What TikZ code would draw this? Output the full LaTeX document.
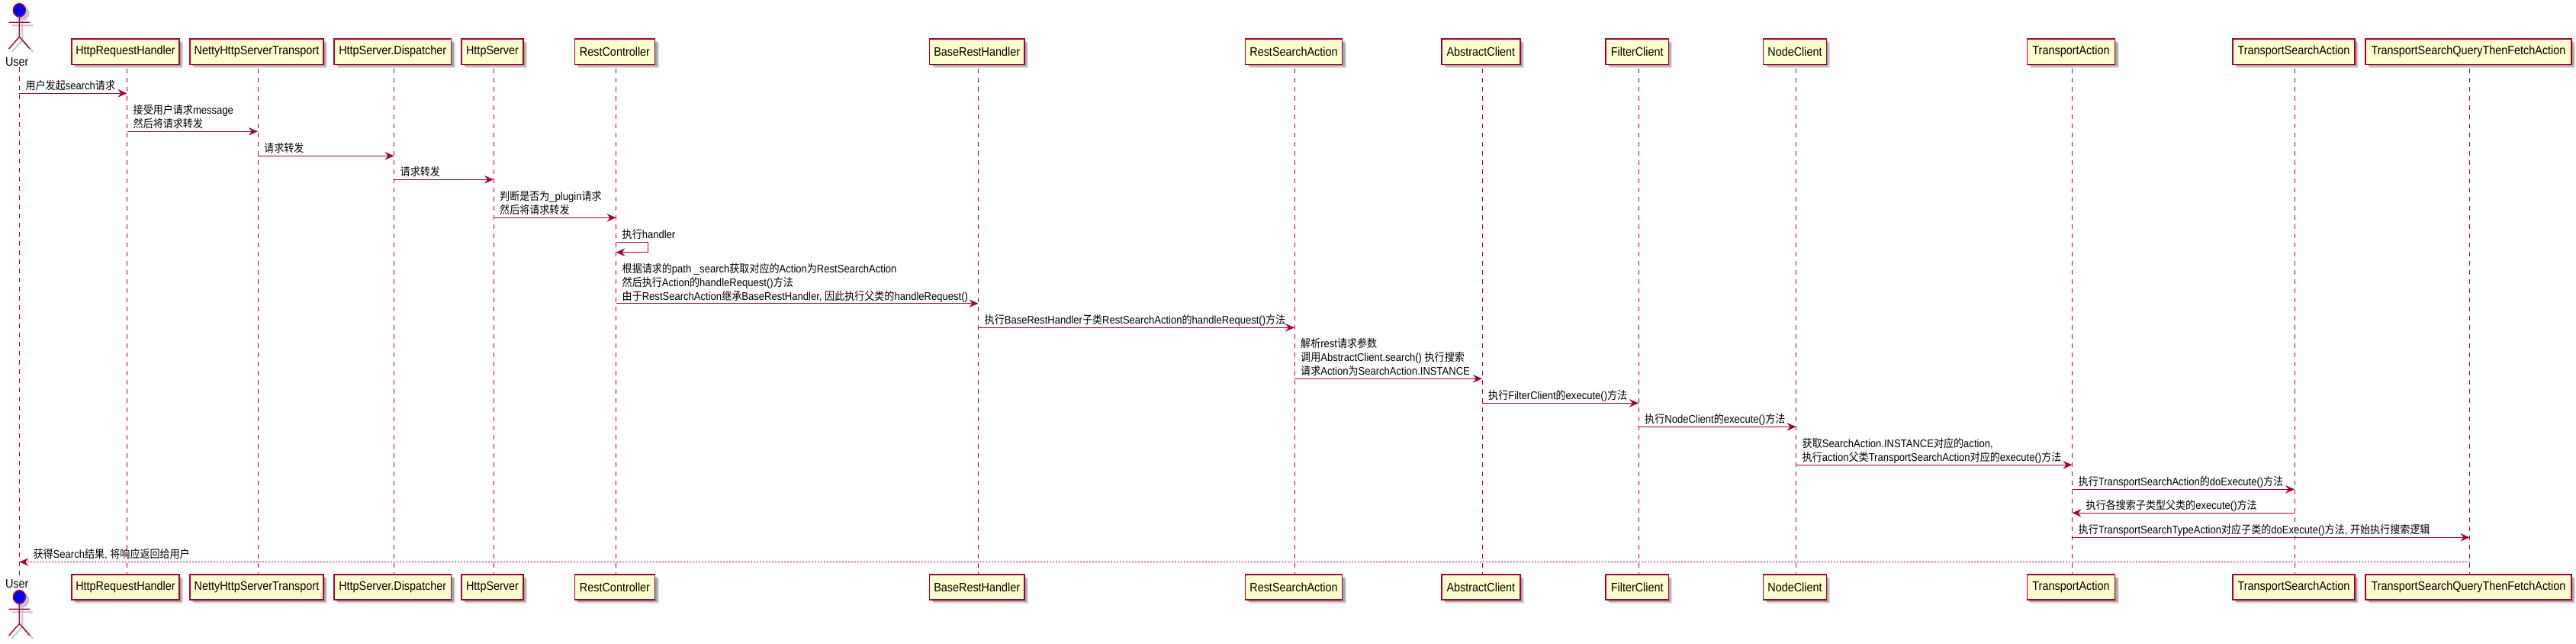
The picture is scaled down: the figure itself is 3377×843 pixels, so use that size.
\documentclass[tikz,border=0pt]{standalone}
\usepackage{fontspec}
\setmainfont{Liberation Sans}[FakeStretch=0.9]
\newfontfamily\zhfont{Noto Sans CJK SC}[FakeStretch=0.9]
\newcommand{\zh}[1]{{\zhfont #1}}
\newcommand{\boxfont}{\fontsize{16}{19}\selectfont}
\newcommand{\msgfont}{\fontsize{14.5}{18}\selectfont}
\usetikzlibrary{arrows.meta,positioning,shadows}
\definecolor{umlred}{HTML}{A80036}
\definecolor{umlfill}{HTML}{FEFECE}

\begin{document}
\begin{tikzpicture}[x=1pt,y=-1pt,node distance=4.4pt and 8pt]
\tikzstyle{boxshadow}=[drop shadow={shadow xshift=5pt,shadow yshift=-5pt,fill=black,opacity=.15},
    drop shadow={shadow xshift=3pt,shadow yshift=-3pt,fill=black,opacity=.25}]
\tikzstyle{part}=[draw=umlred,fill=umlfill,line width=1.6pt,minimum height=33.3pt,inner sep=0pt,font=\boxfont,boxshadow]
\tikzstyle{actorlabel}=[inner sep=0pt,minimum height=14pt,font=\boxfont]
\tikzstyle{lifeline}=[draw=umlred,line width=1pt,dash pattern=on 6pt off 6pt]
\tikzstyle{msg}=[draw=umlred,line width=1.2pt,-{Stealth[length=12pt,width=10.5pt,inset=4pt]}]
\tikzstyle{reply}=[msg,dash pattern=on 2pt off 2pt]
\tikzstyle{msgtext}=[inner sep=0pt,align=left,text depth=0pt,font=\msgfont]
\tikzset{actor/.pic={
    \draw[black!22,line width=2pt,fill=black!22,shift={(4,4)}] (0,13.3) ellipse [x radius=8,y radius=8.7];
    \draw[black!22,line width=2pt,shift={(4,4)}] (0,22) -- (0,48.3) (-13.8,29.3) -- (13.8,29.3) (-13.8,64) -- (0,48.3) -- (13.8,64);
    \draw[umlred,line width=1.4pt,fill=blue] (0,13.3) ellipse [x radius=8,y radius=8.7];
    \draw[umlred,line width=1.4pt] (0,22) -- (0,48.3) (-13.8,29.3) -- (13.8,29.3) (-13.8,64) -- (0,48.3) -- (13.8,64);
}}
\useasboundingbox (0,0) rectangle (3377,843);

% top row
\pic at (25.4,0) {actor};
\pic at (25.4,769) {actor};
\node [actorlabel] (user) at (22.3,81) {User};
\node [part,minimum width=141pt] (hrh) at (164.5,67.7) {HttpRequestHandler};
\node [part,minimum width=175pt] (nhst) at (336.5,67.7) {NettyHttpServerTransport};
\node [part,minimum width=153.5pt] (hsd) at (514.75,67.7) {HttpServer.Dispatcher};
\node [part,minimum width=81pt] (hs) at (645.5,67.7) {HttpServer};
\node [part,minimum width=105.3pt] (rc) at (806,67.7) {RestController};
\node [part,minimum width=124.2pt] (brh) at (1280.7,67.7) {BaseRestHandler};
\node [part,minimum width=127pt] (rsa) at (1696,67.7) {RestSearchAction};
\node [part,minimum width=103.2pt] (ac) at (1941.4,67.7) {AbstractClient};
\node [part,minimum width=82.4pt] (fc) at (2146.2,67.7) {FilterClient};
\node [part,minimum width=82.8pt] (nc) at (2353,67.7) {NodeClient};
\node [part,minimum width=115.1pt] (ta) at (2715,67.7) {TransportAction};
\node [part,minimum width=160pt] (tsa) at (3007,67.7) {TransportSearchAction};
\node [part,minimum width=270pt] (tsq) at (3236,67.7) {TransportSearchQueryThenFetchAction};

% bottom row
\node [actorlabel] (userb) at (22.3,765) {User};
\node [part,minimum width=141pt] (hrhb) at (164.5,769.6) {HttpRequestHandler};
\node [part,minimum width=175pt] (nhstb) at (336.5,769.6) {NettyHttpServerTransport};
\node [part,minimum width=153.5pt] (hsdb) at (514.75,769.6) {HttpServer.Dispatcher};
\node [part,minimum width=81pt] (hsb) at (645.5,769.6) {HttpServer};
\node [part,minimum width=105.3pt] (rcb) at (806,769.6) {RestController};
\node [part,minimum width=124.2pt] (brhb) at (1280.7,769.6) {BaseRestHandler};
\node [part,minimum width=127pt] (rsab) at (1696,769.6) {RestSearchAction};
\node [part,minimum width=103.2pt] (acb) at (1941.4,769.6) {AbstractClient};
\node [part,minimum width=82.4pt] (fcb) at (2146.2,769.6) {FilterClient};
\node [part,minimum width=82.8pt] (ncb) at (2353,769.6) {NodeClient};
\node [part,minimum width=115.1pt] (tab) at (2715,769.6) {TransportAction};
\node [part,minimum width=160pt] (tsab) at (3007,769.6) {TransportSearchAction};
\node [part,minimum width=270pt] (tsqb) at (3236,769.6) {TransportSearchQueryThenFetchAction};

% lifelines
\coordinate (userl) at ([xshift=3.1pt]user.south);
\coordinate (hrhl) at ([xshift=2pt,yshift=-4.7pt]hrh.south);
\coordinate (nhstl) at ([xshift=1.5pt,yshift=-4.7pt]nhst.south);
\coordinate (hsdl) at ([xshift=1.75pt,yshift=-4.7pt]hsd.south);
\coordinate (hsl) at ([xshift=1.5pt,yshift=-4.7pt]hs.south);
\coordinate (rcl) at ([xshift=1.5pt,yshift=-4.7pt]rc.south);
\coordinate (brhl) at ([xshift=1.8pt,yshift=-4.7pt]brh.south);
\coordinate (rsal) at ([xshift=1pt,yshift=-4.7pt]rsa.south);
\coordinate (acl) at ([xshift=1.6pt,yshift=-4.7pt]ac.south);
\coordinate (fcl) at ([xshift=1.8pt,yshift=-4.7pt]fc.south);
\coordinate (ncl) at ([xshift=1.5pt,yshift=-4.7pt]nc.south);
\coordinate (tal) at ([xshift=1.5pt,yshift=-4.7pt]ta.south);
\coordinate (tsal) at ([xshift=1pt,yshift=-4.7pt]tsa.south);
\coordinate (tsql) at ([xshift=1.5pt,yshift=-4.7pt]tsq.south);
\path[every edge/.style={lifeline}]
    (userl) edge (userl |- 0,755)
    (hrhl) edge (hrhl |- hrhb.north)
    (nhstl) edge (nhstl |- nhstb.north)
    (hsdl) edge (hsdl |- hsdb.north)
    (hsl) edge (hsl |- hsb.north)
    (rcl) edge (rcl |- rcb.north)
    (brhl) edge (brhl |- brhb.north)
    (rsal) edge (rsal |- rsab.north)
    (acl) edge (acl |- acb.north)
    (fcl) edge (fcl |- fcb.north)
    (ncl) edge (ncl |- ncb.north)
    (tal) edge (tal |- tab.north)
    (tsal) edge (tsal |- tsab.north)
    (tsql) edge (tsql |- tsqb.north);

% messages
\coordinate (m1s) at (userl |- 0,122.3);
\coordinate (m1e) at (hrhl |- 0,122.3);
\coordinate (m2s) at (hrhl |- 0,172.3);
\coordinate (m2e) at (nhstl |- 0,172.3);
\coordinate (m3s) at (nhstl |- 0,204.3);
\coordinate (m3e) at (hsdl |- 0,204.3);
\coordinate (m4s) at (hsdl |- 0,235.3);
\coordinate (m4e) at (hsl |- 0,235.3);
\coordinate (m5s) at (hsl |- 0,285.3);
\coordinate (m5e) at (rcl |- 0,285.3);
\coordinate (m6s) at (rcl |- 0,317.3);
\coordinate (m6a) at (849.5,317.3);
\coordinate (m6b) at (849.5,330.7);
\coordinate (m6e) at (rcl |- 0,330.7);
\coordinate (m7s) at (rcl |- 0,397.7);
\coordinate (m7e) at (brhl |- 0,397.7);
\coordinate (m8s) at (brhl |- 0,429.3);
\coordinate (m8e) at (rsal |- 0,429.3);
\coordinate (m9s) at (rsal |- 0,496.3);
\coordinate (m9e) at (acl |- 0,496.3);
\coordinate (m10s) at (acl |- 0,528.3);
\coordinate (m10e) at (fcl |- 0,528.3);
\coordinate (m11s) at (fcl |- 0,559.3);
\coordinate (m11e) at (ncl |- 0,559.3);
\coordinate (m12s) at (ncl |- 0,609.3);
\coordinate (m12e) at (tal |- 0,609.3);
\coordinate (m13s) at (tal |- 0,641.3);
\coordinate (m13e) at (tsal |- 0,641.3);
\coordinate (m14s) at (tsal |- 0,672.3);
\coordinate (m14e) at (tal |- 0,672.3);
\coordinate (m15s) at (tal |- 0,704.3);
\coordinate (m15e) at (tsql |- 0,704.3);
\coordinate (m16s) at (tsql |- 0,736.5);
\coordinate (m16e) at (userl |- 0,736.5);
\path[every edge/.style={msg}]
    (m1s) edge (m1e)
    (m2s) edge (m2e)
    (m3s) edge (m3e)
    (m4s) edge (m4e)
    (m5s) edge (m5e)
    (m7s) edge (m7e)
    (m8s) edge (m8e)
    (m9s) edge (m9e)
    (m10s) edge (m10e)
    (m11s) edge (m11e)
    (m12s) edge (m12e)
    (m13s) edge (m13e)
    (m14s) edge (m14e)
    (m15s) edge (m15e);
\draw[msg] (m6s) -- (m6a) -- (m6b) -- (m6e);
\draw[reply] (m16s) -- (m16e);

% labels
\node [msgtext,above right=of m1s] (t1) {\zh{用户发起}search\zh{请求}};
\node [msgtext,above right=of m2s] (t2) {\zh{接受用户请求}message\\\zh{然后将请求转发}};
\node [msgtext,above right=of m3s] (t3) {\zh{请求转发}};
\node [msgtext,above right=of m4s] (t4) {\zh{请求转发}};
\node [msgtext,above right=of m5s] (t5) {\zh{判断是否为}\_plugin\zh{请求}\\\zh{然后将请求转发}};
\node [msgtext,above right=of m6s] (t6) {\zh{执行}handler};
\node [msgtext,above right=of m7s] (t7) {\zh{根据请求的}path \_search\zh{获取对应的}Action\zh{为}RestSearchAction\\\zh{然后执行}Action\zh{的}handleRequest()\zh{方法}\\\zh{由于}RestSearchAction\zh{继承}BaseRestHandler, \zh{因此执行父类的}handleRequest()};
\node [msgtext,above right=of m8s] (t8) {\zh{执行}BaseRestHandler\zh{子类}RestSearchAction\zh{的}handleRequest()\zh{方法}};
\node [msgtext,above right=of m9s] (t9) {\zh{解析}rest\zh{请求参数}\\\zh{调用}AbstractClient.search() \zh{执行搜索}\\\zh{请求}Action\zh{为}SearchAction.INSTANCE};
\node [msgtext,above right=of m10s] (t10) {\zh{执行}FilterClient\zh{的}execute()\zh{方法}};
\node [msgtext,above right=of m11s] (t11) {\zh{执行}NodeClient\zh{的}execute()\zh{方法}};
\node [msgtext,above right=of m12s] (t12) {\zh{获取}SearchAction.INSTANCE\zh{对应的}action,\\\zh{执行}action\zh{父类}TransportSearchAction\zh{对应的}execute()\zh{方法}};
\node [msgtext,above right=of m13s] (t13) {\zh{执行}TransportSearchAction\zh{的}doExecute()\zh{方法}};
\node [msgtext,above right=4.4pt and 18pt of m14e] (t14) {\zh{执行各搜索子类型父类的}execute()\zh{方法}};
\node [msgtext,above right=of m15s] (t15) {\zh{执行}TransportSearchTypeAction\zh{对应子类的}doExecute()\zh{方法}, \zh{开始执行搜索逻辑}};
\node [msgtext,above right=4.4pt and 18pt of m16e] (t16) {\zh{获得}Search\zh{结果}, \zh{将响应返回给用户}};
\end{tikzpicture}
\end{document}
